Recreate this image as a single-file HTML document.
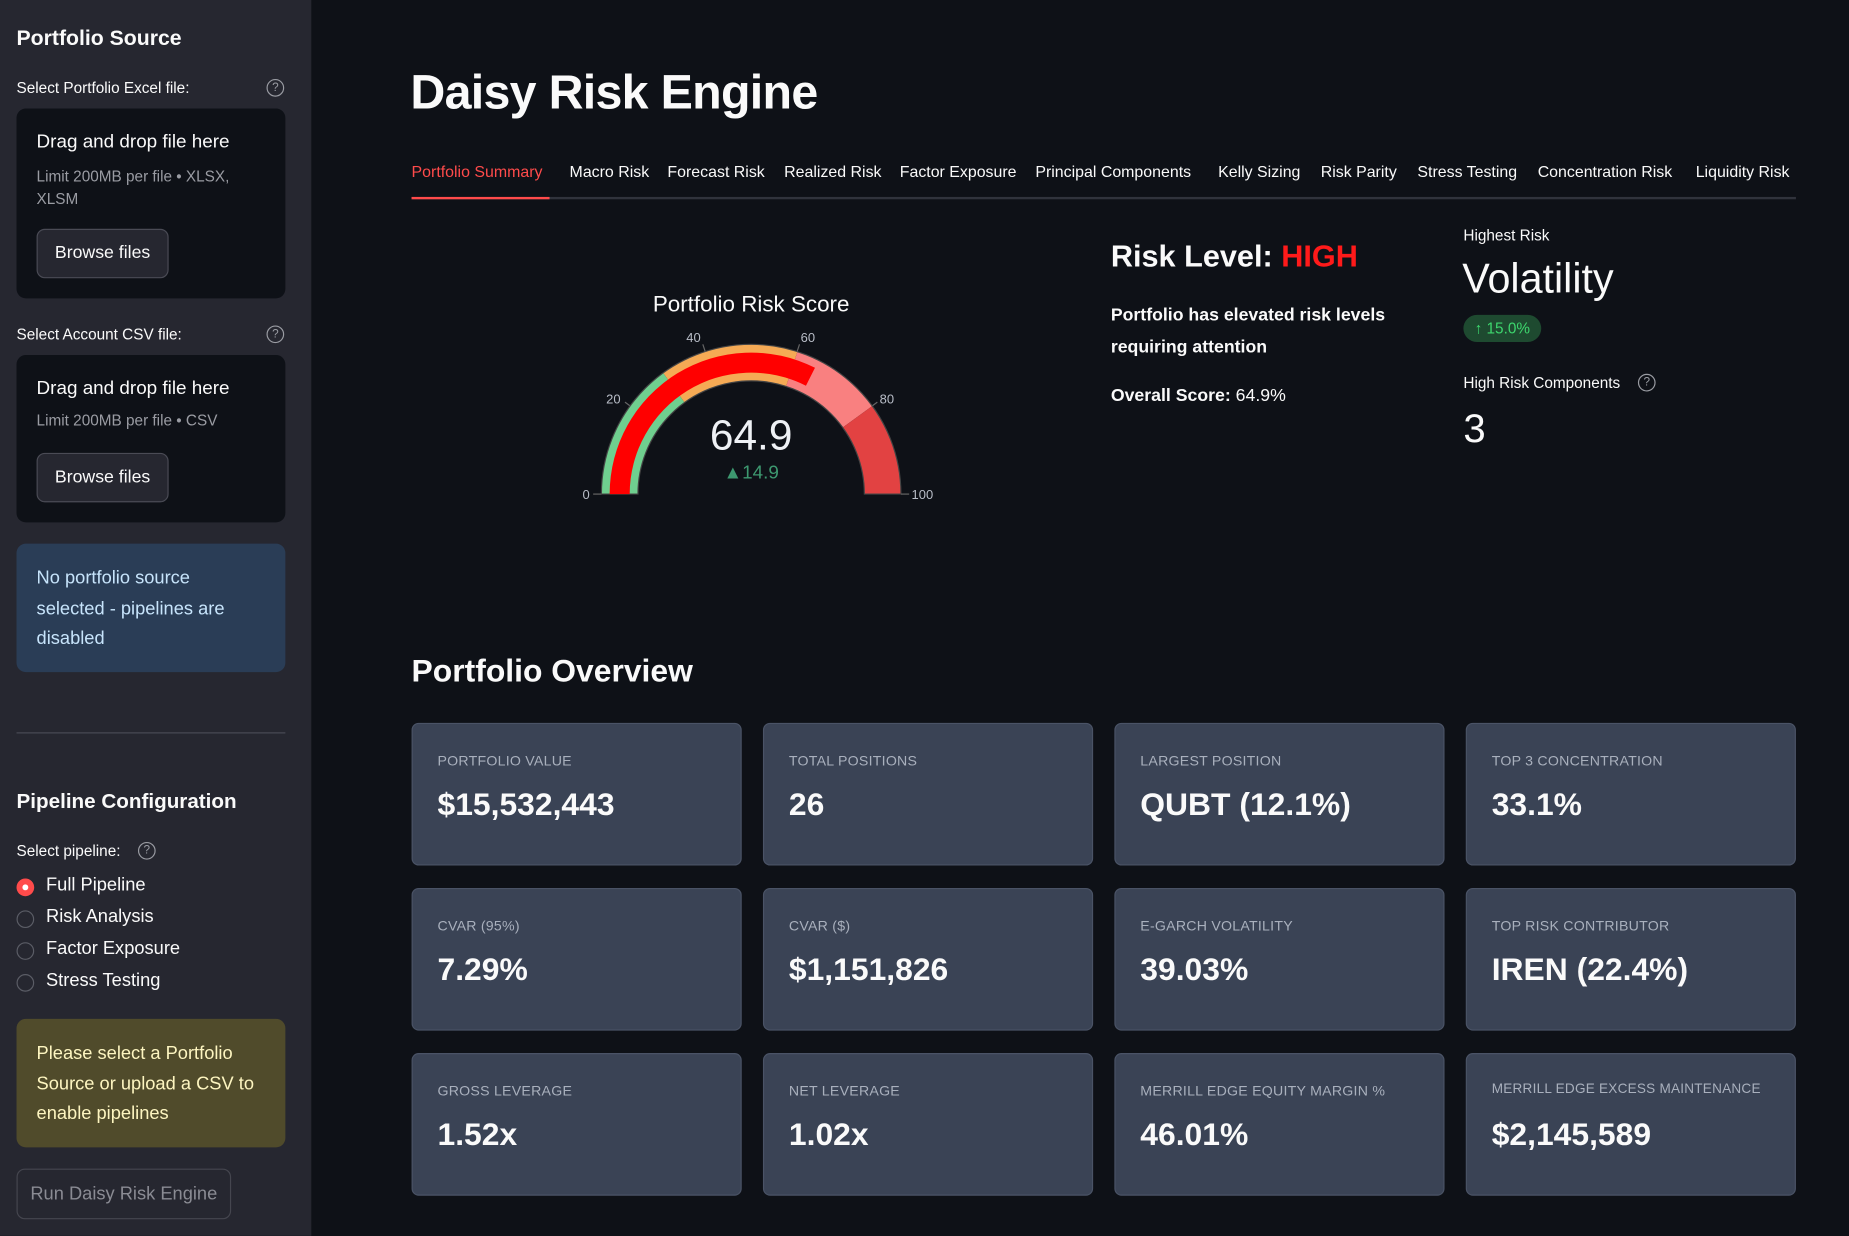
<!DOCTYPE html>
<html><head><meta charset="utf-8"><style>
html,body{margin:0;padding:0;background:#0e1117;overflow:hidden;width:1849px;height:1236px}
#w{position:absolute;left:0;top:0;width:1568px;height:1048px;transform:scale(1.17921);transform-origin:0 0;font-family:"Liberation Sans",sans-serif;color:#fafafa}
.a{position:absolute;white-space:nowrap}
#sb{position:absolute;left:0;top:0;width:264px;height:1048px;background:#262730}
.dz{position:absolute;left:14px;width:228px;background:#0e1117;border-radius:8px}
.btn{position:absolute;left:17px;width:110px;height:40px;border:1px solid #4a4b55;border-radius:7px;background:#262730;font-size:15px;line-height:40px;text-align:center}
.q{position:absolute;width:13px;height:13px;border:1.3px solid #9a9ca3;border-radius:50%;font-size:10px;line-height:13px;text-align:center;color:#9a9ca3}
.rad{position:absolute;left:14px;width:15px;height:15px;border:1.3px solid #5b5d66;border-radius:50%;box-sizing:border-box}
.rl{position:absolute;left:39px;font-size:15.5px}
.tab{position:absolute;top:138px;font-size:13.5px}
.card{position:absolute;width:280px;height:121px;background:#3a4355;border:1px solid #4a5366;border-radius:6px;box-sizing:border-box}
.card .l{position:absolute;left:21px;top:24px;font-size:12px;color:#a9b0bd;letter-spacing:.2px}
.card .v{position:absolute;left:21px;top:53px;font-size:27px;font-weight:bold;color:#fafafa}
</style></head><body><div id="w">
<div id="sb">
<div class="a" style="left:14px;top:22px;font-size:18px;font-weight:bold">Portfolio Source</div>
<div class="a" style="left:14px;top:67px;font-size:13px">Select Portfolio Excel file:</div>
<div class="q" style="left:226px;top:67px">?</div>
<div class="dz" style="top:92px;height:161px">
<div class="a" style="left:17px;top:20px;font-size:16px">Drag and drop file here</div>
<div class="a" style="left:17px;top:48px;font-size:13px;color:#9a9ca3;line-height:19px">Limit 200MB per file • XLSX,<br>XLSM</div>
<div class="btn" style="top:102px">Browse files</div></div>
<div class="a" style="left:14px;top:276px;font-size:13px">Select Account CSV file:</div>
<div class="q" style="left:226px;top:276px">?</div>
<div class="dz" style="top:301px;height:142px">
<div class="a" style="left:17px;top:20px;font-size:16px">Drag and drop file here</div>
<div class="a" style="left:17px;top:48px;font-size:13px;color:#9a9ca3">Limit 200MB per file • CSV</div>
<div class="btn" style="top:83px">Browse files</div></div>
<div class="a" style="left:14px;top:461px;width:228px;height:109px;background:#2a3d56;border-radius:8px"></div>
<div class="a" style="left:31px;top:478px;font-size:15.5px;line-height:25.5px;color:#c7e4fb">No portfolio source<br>selected - pipelines are<br>disabled</div>
<div class="a" style="left:14px;top:621px;width:228px;height:1px;background:#4a4b55"></div>
<div class="a" style="left:14px;top:669px;font-size:17.5px;font-weight:bold">Pipeline Configuration</div>
<div class="a" style="left:14px;top:714px;font-size:13px">Select pipeline:</div>
<div class="q" style="left:117px;top:714px">?</div>
<div class="rad" style="top:745px;background:#ff4b4b;border:none"><div style="position:absolute;left:5px;top:5px;width:5px;height:5px;background:#fff;border-radius:50%"></div></div>
<div class="rl" style="top:742px">Full Pipeline</div>
<div class="rad" style="top:772px"></div><div class="rl" style="top:769px">Risk Analysis</div>
<div class="rad" style="top:799px"></div><div class="rl" style="top:796px">Factor Exposure</div>
<div class="rad" style="top:826px"></div><div class="rl" style="top:823px">Stress Testing</div>
<div class="a" style="left:14px;top:864px;width:228px;height:109px;background:#504b2b;border-radius:8px"></div>
<div class="a" style="left:31px;top:881px;font-size:15.5px;line-height:25.5px;color:#fdf5c0">Please select a Portfolio<br>Source or upload a CSV to<br>enable pipelines</div>
<div class="a" style="left:14px;top:991px;width:180px;height:41px;border:1px solid #45464f;border-radius:7px;font-size:15.5px;line-height:41px;text-align:center;color:#8a8b93">Run Daisy Risk Engine</div>
</div>

<div class="a" style="left:348px;top:55px;font-size:41px;font-weight:bold;letter-spacing:-.6px">Daisy Risk Engine</div>
<div class="tab" style="left:349px;color:#ff4b4b">Portfolio Summary</div>
<div class="tab" style="left:483px">Macro Risk</div>
<div class="tab" style="left:566px">Forecast Risk</div>
<div class="tab" style="left:665px">Realized Risk</div>
<div class="tab" style="left:763px">Factor Exposure</div>
<div class="tab" style="left:878px">Principal Components</div>
<div class="tab" style="left:1033px">Kelly Sizing</div>
<div class="tab" style="left:1120px">Risk Parity</div>
<div class="tab" style="left:1202px">Stress Testing</div>
<div class="tab" style="left:1304px">Concentration Risk</div>
<div class="tab" style="left:1438px;width:84px;overflow:hidden">Liquidity Risk</div>
<div class="a" style="left:349px;top:167px;width:1174px;height:2px;background:#30333c"></div>
<div class="a" style="left:349px;top:167px;width:117px;height:2px;background:#ff4b4b"></div>

<svg class="a" style="left:0;top:0" width="1568" height="500" font-family="Liberation Sans,sans-serif">
<text x="637" y="264" fill="#fafafa" font-size="19" text-anchor="middle">Portfolio Risk Score</text>
<path d="M510 419 A127 127 0 0 1 562.35 316.26 L580.57 341.34 A96 96 0 0 0 541 419Z" fill="#6fcf8f"/>
<path d="M562.35 316.26 A127 127 0 0 1 676.24 298.21 L666.66 327.69 A96 96 0 0 0 580.57 341.34Z" fill="#f5aa55"/>
<path d="M676.24 298.21 A127 127 0 0 1 739.74 344.35 L714.66 362.57 A96 96 0 0 0 666.66 327.69Z" fill="#f98080"/>
<path d="M739.74 344.35 A127 127 0 0 1 764 419 L733 419 A96 96 0 0 0 714.66 362.57Z" fill="#e24242"/>
<path d="M510 419 A127 127 0 0 1 764 419 L733 419 A96 96 0 0 0 541 419Z" fill="none" stroke="#444" stroke-width="1"/>
<path d="M517 419 A120 120 0 0 1 691.14 311.91 L683.47 327.08 A103 103 0 0 0 534 419Z" fill="#ff0000"/>
<g stroke="#666" stroke-width="1"><line x1="503" y1="419" x2="510" y2="419"/><line x1="764" y1="419" x2="771" y2="419"/>
<line x1="534" y1="344" x2="530" y2="341"/><line x1="598" y1="298" x2="596" y2="292"/><line x1="676" y1="298" x2="678" y2="292"/><line x1="740" y1="344" x2="744" y2="341"/></g>
<g fill="#b8bdc7" font-size="11"><text x="494" y="423">0</text><text x="514" y="342">20</text><text x="582" y="290">40</text><text x="679" y="290">60</text><text x="746" y="342">80</text><text x="773" y="423">100</text></g>
<text x="637" y="381" fill="#eef1f5" font-size="36" text-anchor="middle">64.9</text>
<text x="637" y="406" fill="#3d9970" font-size="16" text-anchor="middle">▲14.9</text>
</svg>

<div class="a" style="left:942px;top:202px;font-size:26px;font-weight:bold">Risk Level: <span style="color:#ff1a1a">HIGH</span></div>
<div class="a" style="left:942px;top:254px;font-size:15px;font-weight:bold;line-height:27px">Portfolio has elevated risk levels<br>requiring attention</div>
<div class="a" style="left:942px;top:327px;font-size:15px"><b>Overall Score:</b> 64.9%</div>
<div class="a" style="left:1241px;top:192px;font-size:13px">Highest Risk</div>
<div class="a" style="left:1240px;top:217px;font-size:35px">Volatility</div>
<div class="a" style="left:1241px;top:267px;width:66px;height:23px;background:#1e4a30;border-radius:12px;font-size:13px;line-height:23px;text-align:center;color:#3dd56d">↑ 15.0%</div>
<div class="a" style="left:1241px;top:317px;font-size:13px">High Risk Components</div>
<div class="q" style="left:1389px;top:317px">?</div>
<div class="a" style="left:1241px;top:345px;font-size:34px">3</div>

<div class="a" style="left:349px;top:554px;font-size:27px;font-weight:bold">Portfolio Overview</div>

<div class="card" style="left:349px;top:613px"><div class="l">PORTFOLIO VALUE</div><div class="v">$15,532,443</div></div>
<div class="card" style="left:647px;top:613px"><div class="l">TOTAL POSITIONS</div><div class="v">26</div></div>
<div class="card" style="left:945px;top:613px"><div class="l">LARGEST POSITION</div><div class="v">QUBT (12.1%)</div></div>
<div class="card" style="left:1243px;top:613px"><div class="l">TOP 3 CONCENTRATION</div><div class="v">33.1%</div></div>
<div class="card" style="left:349px;top:753px"><div class="l">CVAR (95%)</div><div class="v">7.29%</div></div>
<div class="card" style="left:647px;top:753px"><div class="l">CVAR ($)</div><div class="v">$1,151,826</div></div>
<div class="card" style="left:945px;top:753px"><div class="l">E-GARCH VOLATILITY</div><div class="v">39.03%</div></div>
<div class="card" style="left:1243px;top:753px"><div class="l">TOP RISK CONTRIBUTOR</div><div class="v">IREN (22.4%)</div></div>
<div class="card" style="left:349px;top:893px"><div class="l">GROSS LEVERAGE</div><div class="v">1.52x</div></div>
<div class="card" style="left:647px;top:893px"><div class="l">NET LEVERAGE</div><div class="v">1.02x</div></div>
<div class="card" style="left:945px;top:893px"><div class="l">MERRILL EDGE EQUITY MARGIN %</div><div class="v">46.01%</div></div>
<div class="card" style="left:1243px;top:893px"><div class="l" style="font-size:11.5px">MERRILL EDGE EXCESS MAINTENANCE</div><div class="v">$2,145,589</div></div>
</div></body></html>
